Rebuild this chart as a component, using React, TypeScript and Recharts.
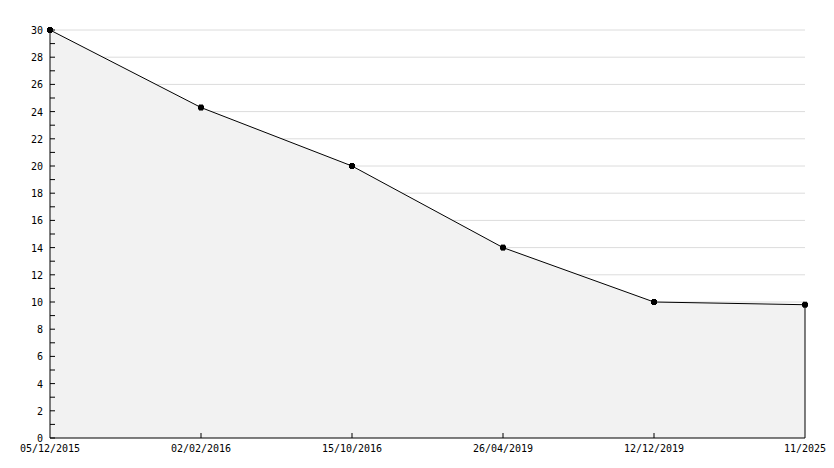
import { ComposedChart, Area, Line, XAxis, YAxis, CartesianGrid, ReferenceLine } from "recharts";

const dates = ["05/12/2015", "02/02/2016", "15/10/2016", "26/04/2019", "12/12/2019", "11/2025"];
const values = [30, 24.3, 20, 14, 10, 9.8];
const yTicks = Array.from({ length: 31 }, (_, i) => i); // 0..30, labels on even only
const gridValues = [2, 4, 6, 8, 10, 12, 14, 16, 18, 20, 22, 24, 26, 28, 30];

const data = dates.map((d, i) => ({ date: d, value: values[i] }));
const FONT = "'DejaVu Sans Mono', monospace";

function YTick(props: any) {
  const { x, y, payload } = props;
  const v = Number(payload.value);
  return (
    <g>
      <line x1={x} x2={x + 5} y1={y} y2={y} stroke="#000" />
      {v % 2 === 0 && (
        <text x={x - 7} y={y} dy={4} textAnchor="end" fontFamily={FONT} fontSize={10} fill="#000">
          {v}
        </text>
      )}
    </g>
  );
}

function XTick(props: any) {
  const { x, y, payload, index } = props;
  const last = index === dates.length - 1;
  return (
    <g>
      {index > 0 && !last && <line x1={x} x2={x} y1={y} y2={y - 5} stroke="#000" />}
      <text x={x} y={y + 14} textAnchor="middle" fontFamily={FONT} fontSize={10} fill="#000">
        {payload.value}
      </text>
    </g>
  );
}

function Marker(props: any) {
  const { cx, cy } = props;
  if (cx == null || cy == null) return null;
  return (
    <g>
      <rect x={cx - 2} y={cy - 3} width={4} height={6} fill="#000" />
      <rect x={cx - 3} y={cy - 2} width={6} height={4} fill="#000" />
    </g>
  );
}

export default function App() {
  return (
    <div style={{ position: "absolute", left: 0, top: 0, width: 834, height: 468, background: "#fff" }}>
      <ComposedChart width={834} height={468} data={data} margin={{ top: 30, right: 29, bottom: 0, left: 0 }}>
        <CartesianGrid vertical={false} horizontalValues={gridValues} stroke="#dcdcdc" />
        <XAxis
          dataKey="date"
          height={30}
          tickSize={0}
          tickMargin={0}
          tickLine={false}
          tick={<XTick />}
          interval={0}
          axisLine={{ stroke: "#000" }}
        />
        <YAxis
          width={50}
          domain={[0, 30]}
          ticks={yTicks}
          interval={0}
          tickSize={0}
          tickMargin={0}
          tickLine={false}
          tick={<YTick />}
          axisLine={{ stroke: "#000" }}
        />
        <Area
          type="linear"
          dataKey="value"
          fill="#f2f2f2"
          fillOpacity={1}
          stroke="none"
          isAnimationActive={false}
        />
        <ReferenceLine
          segment={[
            { x: dates[dates.length - 1], y: 0 },
            { x: dates[dates.length - 1], y: values[values.length - 1] },
          ]}
          stroke="#000"
        />
        <Line
          type="linear"
          dataKey="value"
          stroke="#000"
          strokeWidth={1}
          dot={<Marker />}
          activeDot={false}
          isAnimationActive={false}
        />
      </ComposedChart>
    </div>
  );
}
